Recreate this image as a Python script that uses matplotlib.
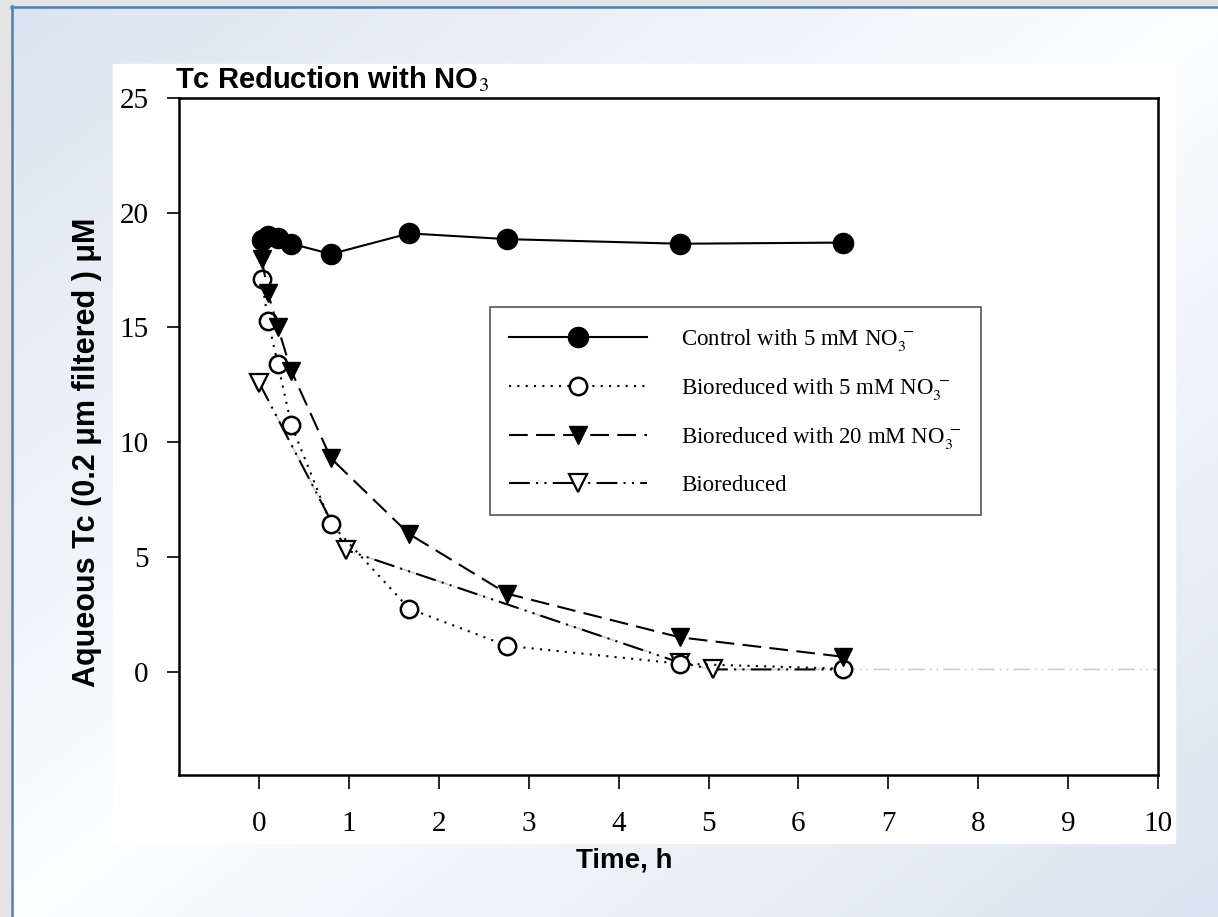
import numpy as np
import matplotlib
matplotlib.use("Agg")
import matplotlib.pyplot as plt
from matplotlib.patches import Rectangle

plt.rcParams['mathtext.fontset'] = 'stix'

# time points (h) and aqueous Tc (uM)
t_ctrl = [0.03, 0.10, 0.21, 0.36, 0.80, 1.67, 2.76, 4.68, 6.50]
tc_ctrl = [18.8, 19.0, 18.9, 18.65, 18.2, 19.1, 18.85, 18.65, 18.7]

t_5mm = [0.03, 0.10, 0.21, 0.36, 0.80, 1.67, 2.76, 4.68, 6.50]
tc_5mm = [17.1, 15.3, 13.4, 10.75, 6.45, 2.75, 1.13, 0.35, 0.13]

t_20mm = [0.03, 0.10, 0.21, 0.36, 0.80, 1.67, 2.76, 4.68, 6.50]
tc_20mm = [18.0, 16.5, 15.0, 13.1, 9.3, 6.0, 3.4, 1.5, 0.65]

t_bio = [0.0, 0.97, 4.68, 5.05, 24.0]
tc_bio = [12.6, 5.3, 0.4, 0.1, 0.1]

labels = ['Control with 5 mM NO$_3^{\\;-}$',
          'Bioreduced with 5 mM NO$_3^{\\;-}$',
          'Bioreduced with 20 mM NO$_3^{\\;-}$',
          'Bioreduced']

W, H = 1218, 917
fig = plt.figure(figsize=(W / 100, H / 100), dpi=100)

# slide background
bg = fig.add_axes([0, 0, 1, 1], zorder=-10)
bg.add_patch(Rectangle((0, 0), W, H, color='#e4e4e4', zorder=0))
xx, yy = np.meshgrid(np.linspace(0, 1, 300), np.linspace(0, 1, 230))
g = np.abs(xx + yy - 1.0)
blue = np.array([0.855, 0.894, 0.941])
white = np.array([0.99, 0.995, 1.0])
img = white * (1 - g[..., None]) + blue * g[..., None]
bg.imshow(img, extent=[11, W, H, 6], aspect='auto', interpolation='bilinear',
          zorder=1)
bg.plot([11, W], [6.5, 6.5], color='#4f7db4', lw=1.8, zorder=2)
bg.plot([11.5, 11.5], [6, H], color='#4f7db4', lw=1.8, zorder=2)
bg.add_patch(Rectangle((113, 64), 1062, 779, color='white', zorder=3))
bg.set_xlim(0, W)
bg.set_ylim(H, 0)
bg.axis('off')

ax = fig.add_axes([179 / W, 1 - 775 / H, 979 / W, 677 / H])
ax.set_xlim(-0.89, 10)
ax.set_ylim(-4.5, 25)

ax.plot(t_ctrl, tc_ctrl, '-', color='black', lw=1.5, marker='o', ms=14.5,
        mfc='black', mec='black', label=labels[0], zorder=5)
ax.plot(t_5mm, tc_5mm, color='black', lw=1.5, dashes=(1, 3), marker='o', ms=12.5,
        mfc='white', mec='black', mew=1.8, label=labels[1], zorder=4)
ax.plot(t_20mm, tc_20mm, color='black', lw=1.5, dashes=(9, 4), marker='v', ms=13,
        mfc='black', mec='black', label=labels[2], zorder=4)

# faint tail of the bioreduced line beyond the last plotted symbol
ax.plot(t_bio, tc_bio, color='#cccccc', lw=1.2, dashes=(10, 3, 1, 3, 1, 3), zorder=2)
bio, = ax.plot(t_bio, tc_bio, color='black', lw=1.5, dashes=(10, 3, 1, 3, 1, 3),
               marker='v', ms=12.5, mfc='white', mec='black', mew=1.6,
               label=labels[3], zorder=3)
clip = Rectangle((-1, -5), 7.6, 31, transform=ax.transData)
bio.set_clip_path(clip)

for s in ax.spines.values():
    s.set_linewidth(1.8)

ax.set_xticks(range(0, 11))
ax.set_yticks(range(0, 26, 5))
ax.tick_params(axis='x', direction='out', length=10, width=1.2, pad=16,
               labelsize=21, top=False)
ax.tick_params(axis='y', direction='out', length=9, width=1.2, pad=13,
               labelsize=21, right=False)
for lab in ax.get_xticklabels() + ax.get_yticklabels():
    lab.set_fontfamily('Liberation Serif')

ax.set_xlabel('Time, h', fontsize=20, fontweight='bold', family='Liberation Sans',
              va='center')
ax.xaxis.set_label_coords(0.4545, -0.126)
ax.set_ylabel('Aqueous Tc (0.2 \u03bcm filtered ) \u03bcM', fontsize=22,
              fontweight='bold', family='Liberation Sans', va='center')
ax.yaxis.set_label_coords(-0.094, 0.477)

fig.text(175 / W, 1 - 88 / H, 'Tc Reduction with NO$_3$', fontsize=21,
         fontweight='bold', family='Liberation Sans', va='baseline', ha='left')

leg = ax.legend(loc='upper left', bbox_to_anchor=(0.3055, 0.708), fancybox=False,
                framealpha=1, edgecolor='#555555', numpoints=1, handlelength=6.0,
                handletextpad=1.5, labelspacing=1.02, borderpad=0.85,
                prop={'family': 'Liberation Serif', 'size': 16.5})
leg.get_frame().set_linewidth(1.2)

fig.savefig('out.png', dpi=100)
